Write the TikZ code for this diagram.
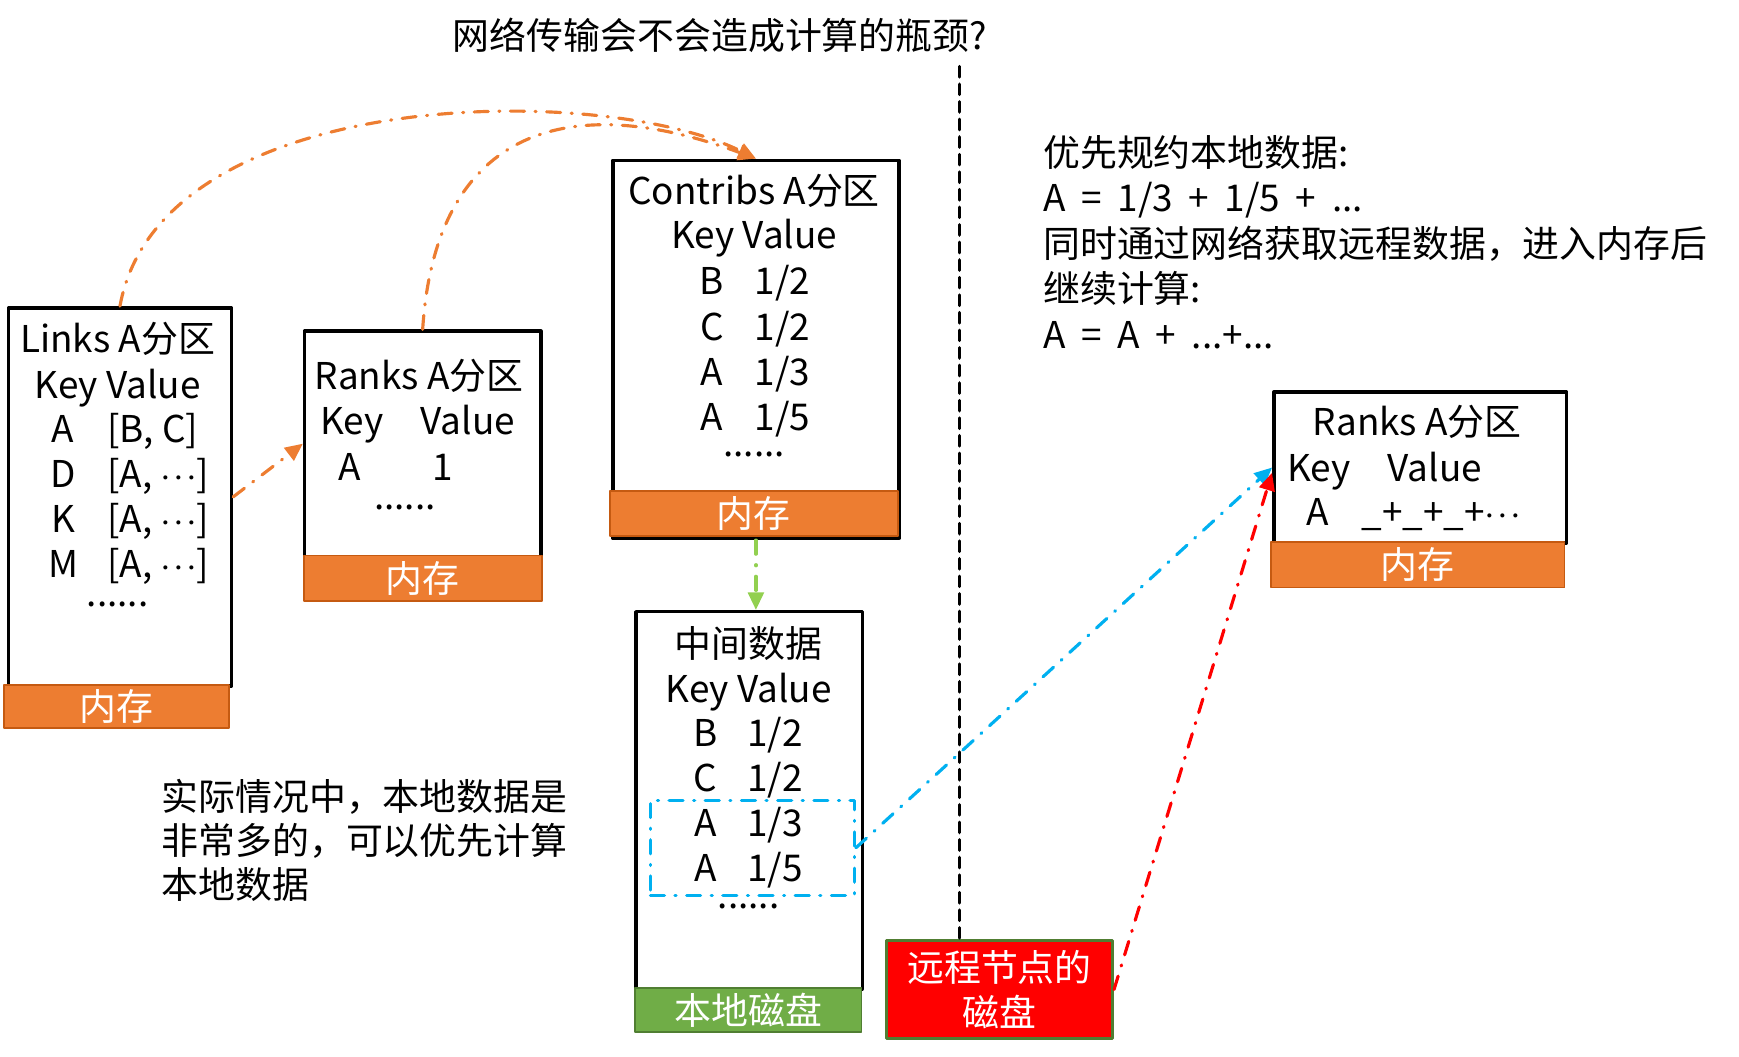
\documentclass[tikz,border=0pt]{standalone}
\usepackage{fontspec}
\setmainfont{Noto Sans CJK SC}
\newfontfamily\widefont{Noto Sans CJK SC}[WordSpace=1.9]
\usetikzlibrary{arrows.meta,calc}
\definecolor{memOrange}{HTML}{ED7D31}
\definecolor{memOrangeDark}{HTML}{C55A11}
\definecolor{diskGreen}{HTML}{70AD47}
\definecolor{diskGreenDark}{HTML}{507E32}
\definecolor{remoteRed}{HTML}{FF0000}
\definecolor{flowCyan}{HTML}{00B0F0}
\definecolor{flowGreen}{HTML}{92D050}
\newcommand{\figfont}{\fontsize{10.5}{12.9}\selectfont}
\newcommand{\middots}{$\cdot\mkern-3mu\cdot\mkern-3mu\cdot$}

\begin{document}
\begin{tikzpicture}[font=\figfont, line cap=round, line join=round,
  partbox/.style={draw=black, line width=1pt, fill=white, anchor=north west, inner sep=0pt},
  membar/.style={fill=memOrange, draw=memOrangeDark, line width=0.5pt,
                 anchor=north west, inner sep=0pt, text=white},
  cell/.style={anchor=base, inner sep=0pt},
  cellv/.style={anchor=base west, inner sep=0pt},
  flow/.style={line width=0.9pt, dash pattern=on 4pt off 3pt on 0.3pt off 3pt,
               -{Triangle[length=5pt,width=4.5pt]}},
]
  \useasboundingbox (0,0) rectangle (17.39,10.56);

  % --- question on top + divider ---
  \node[cell] (title) at (7.20,10.065) {网络传输会不会造成计算的瓶颈?};

  % --- Links partition ---
  \node[partbox, minimum width=2.23cm, minimum height=3.78cm] (links) at (0.067,7.499) {};
  \node[membar, minimum width=2.25cm, minimum height=0.43cm] (linksbar) at (0.033,3.718) {内存};
  \node[cell] (linkshead) at (1.176,7.04) {Links A分区};
  \node[cell] (linkskv) at (1.176,6.58) {Key Value};
  \foreach \k/\v [count=\i] in {A/{[B, C]}, D/{[A, \middots]}, K/{[A, \middots]}, M/{[A, \middots]}} {
    \node[cell] (lk\i) at (0.63,6.592-0.452*\i) {\k};
    \node[cellv] (lv\i) at (1.065,6.592-0.452*\i) {\v};
  }
  \node[cell] (linksdots) at (1.176,4.50) {......};

  % --- Ranks partition (local) ---
  \node[partbox, minimum width=2.362cm, minimum height=2.251cm] (ranksA) at (3.028,7.266) {};
  \node[membar, minimum width=2.384cm, minimum height=0.455cm] (ranksAbar) at (3.028,5.015) {内存};
  \node[cell] (rankshead) at (4.192,6.66) {Ranks A分区};
  \node[cellv] (rankskv) at (3.194,6.22) {Key\quad Value};
  \node[cell] (rk1) at (3.50,5.76) {A};
  \node[cell] (rv1) at (4.425,5.76) {1};
  \node[cell] (ranksdots) at (4.048,5.47) {......};

  % --- Contribs partition ---
  \node[partbox, minimum width=2.861cm, minimum height=3.78cm] (contribs) at (6.111,8.974) {};
  \node[membar, minimum width=2.884cm, minimum height=0.45cm] (contribsbar) at (6.088,5.658) {内存};
  \node[cell] (contribshead) at (7.541,8.51) {Contribs A分区};
  \node[cell] (contribskv) at (7.541,8.07) {Key Value};
  \foreach \k/\v [count=\i] in {B/1\slash 2, C/1\slash 2, A/1\slash 3, A/1\slash 5} {
    \node[cell] (ck\i) at (7.12,8.06-0.45*\i) {\k};
    \node[cellv] (cv\i) at (7.541,8.06-0.45*\i) {\v};
  }
  \node[cell] (contribsdots) at (7.541,6.0) {......};

  % --- intermediate data on local disk ---
  \node[partbox, minimum width=2.263cm, minimum height=3.771cm] (midbox) at (6.343,4.461) {};
  \node[membar, fill=diskGreen, draw=diskGreenDark, minimum width=2.263cm,
        minimum height=0.443cm] (diskbar) at (6.343,0.690) {本地磁盘};
  \node[cell] (midhead) at (7.486,3.99) {中间数据};
  \node[cell] (midkv) at (7.486,3.54) {Key Value};
  \foreach \k/\v [count=\i] in {B/1\slash 2, C/1\slash 2, A/1\slash 3, A/1\slash 5} {
    \node[cell] (mk\i) at (7.053,3.55-0.45*\i) {\k};
    \node[cellv] (mv\i) at (7.464,3.55-0.45*\i) {\v};
  }
  \node[cell] (middots) at (7.486,1.48) {......};
  \node[draw=flowCyan, line width=0.9pt, dash pattern=on 4pt off 3pt on 0.3pt off 3pt,
        anchor=north west, inner sep=0pt, minimum width=2.04cm,
        minimum height=0.953cm] (cyanbox) at (6.488,2.575) {};

  % --- remote disk ---
  \node[membar, fill=remoteRed, draw=diskGreenDark, line width=0.8pt, align=center,
        minimum width=2.262cm, minimum height=0.976cm] (remote) at (8.850,1.167)
    {远程节点的\\磁盘};
  \coordinate (divtop) at (9.593,9.895);
  \draw[line width=0.9pt, dash pattern=on 3pt off 2pt] (divtop) -- (divtop |- remote.north);

  % --- Ranks partition (after reduce) ---
  \node[partbox, minimum width=2.928cm, minimum height=1.508cm] (rranks) at (12.720,6.656) {};
  \node[membar, minimum width=2.939cm, minimum height=0.455cm] (rranksbar) at (12.698,5.148) {内存};
  \node[cell] (rrankshead) at (14.173,6.21) {Ranks A分区};
  \node[cellv] (rrankskv) at (12.864,5.75) {Key\quad Value};
  \node[cell] (rrk1) at (13.175,5.31) {A};
  \node[cellv] (rrv1) at (13.607,5.31) {\_+\_+\_+\middots};

  % --- notes (base = last line) ---
  \node[anchor=base west, inner sep=0pt, align=left,
        font=\widefont\figfont] (plan) at (10.425,7.08)
    {优先规约本地数据:\\A = 1/3 + 1/5 + ...\\同时通过网络获取远程数据，进入内存后\\继续计算:\\A = A + ...+...};
  \node[anchor=base west, inner sep=0pt, align=left,
        font=\fontsize{10.5}{12.6}\selectfont] (note) at (1.608,1.572)
    {实际情况中，本地数据是\\非常多的，可以优先计算\\本地数据};

  % --- data flow ---
  \draw[flow, memOrange] (links.east) -- (ranksA.west);
  \draw[flow, memOrange] (links.north) .. controls (1.6,9.7) and (6.0,9.75) .. (contribs.north);
  \draw[flow, memOrange] (ranksA.north) .. controls (4.35,9.2) and (5.6,9.7) .. (contribs.north);
  \draw[flow, flowGreen] (contribs.south) -- (contribs.south |- midbox.north);
  \draw[flow, flowCyan] (cyanbox.east) -- (rranks.west);
  \draw[flow, remoteRed] (remote.east) -- ([yshift=-1.5pt]rranks.west);
\end{tikzpicture}
\end{document}
